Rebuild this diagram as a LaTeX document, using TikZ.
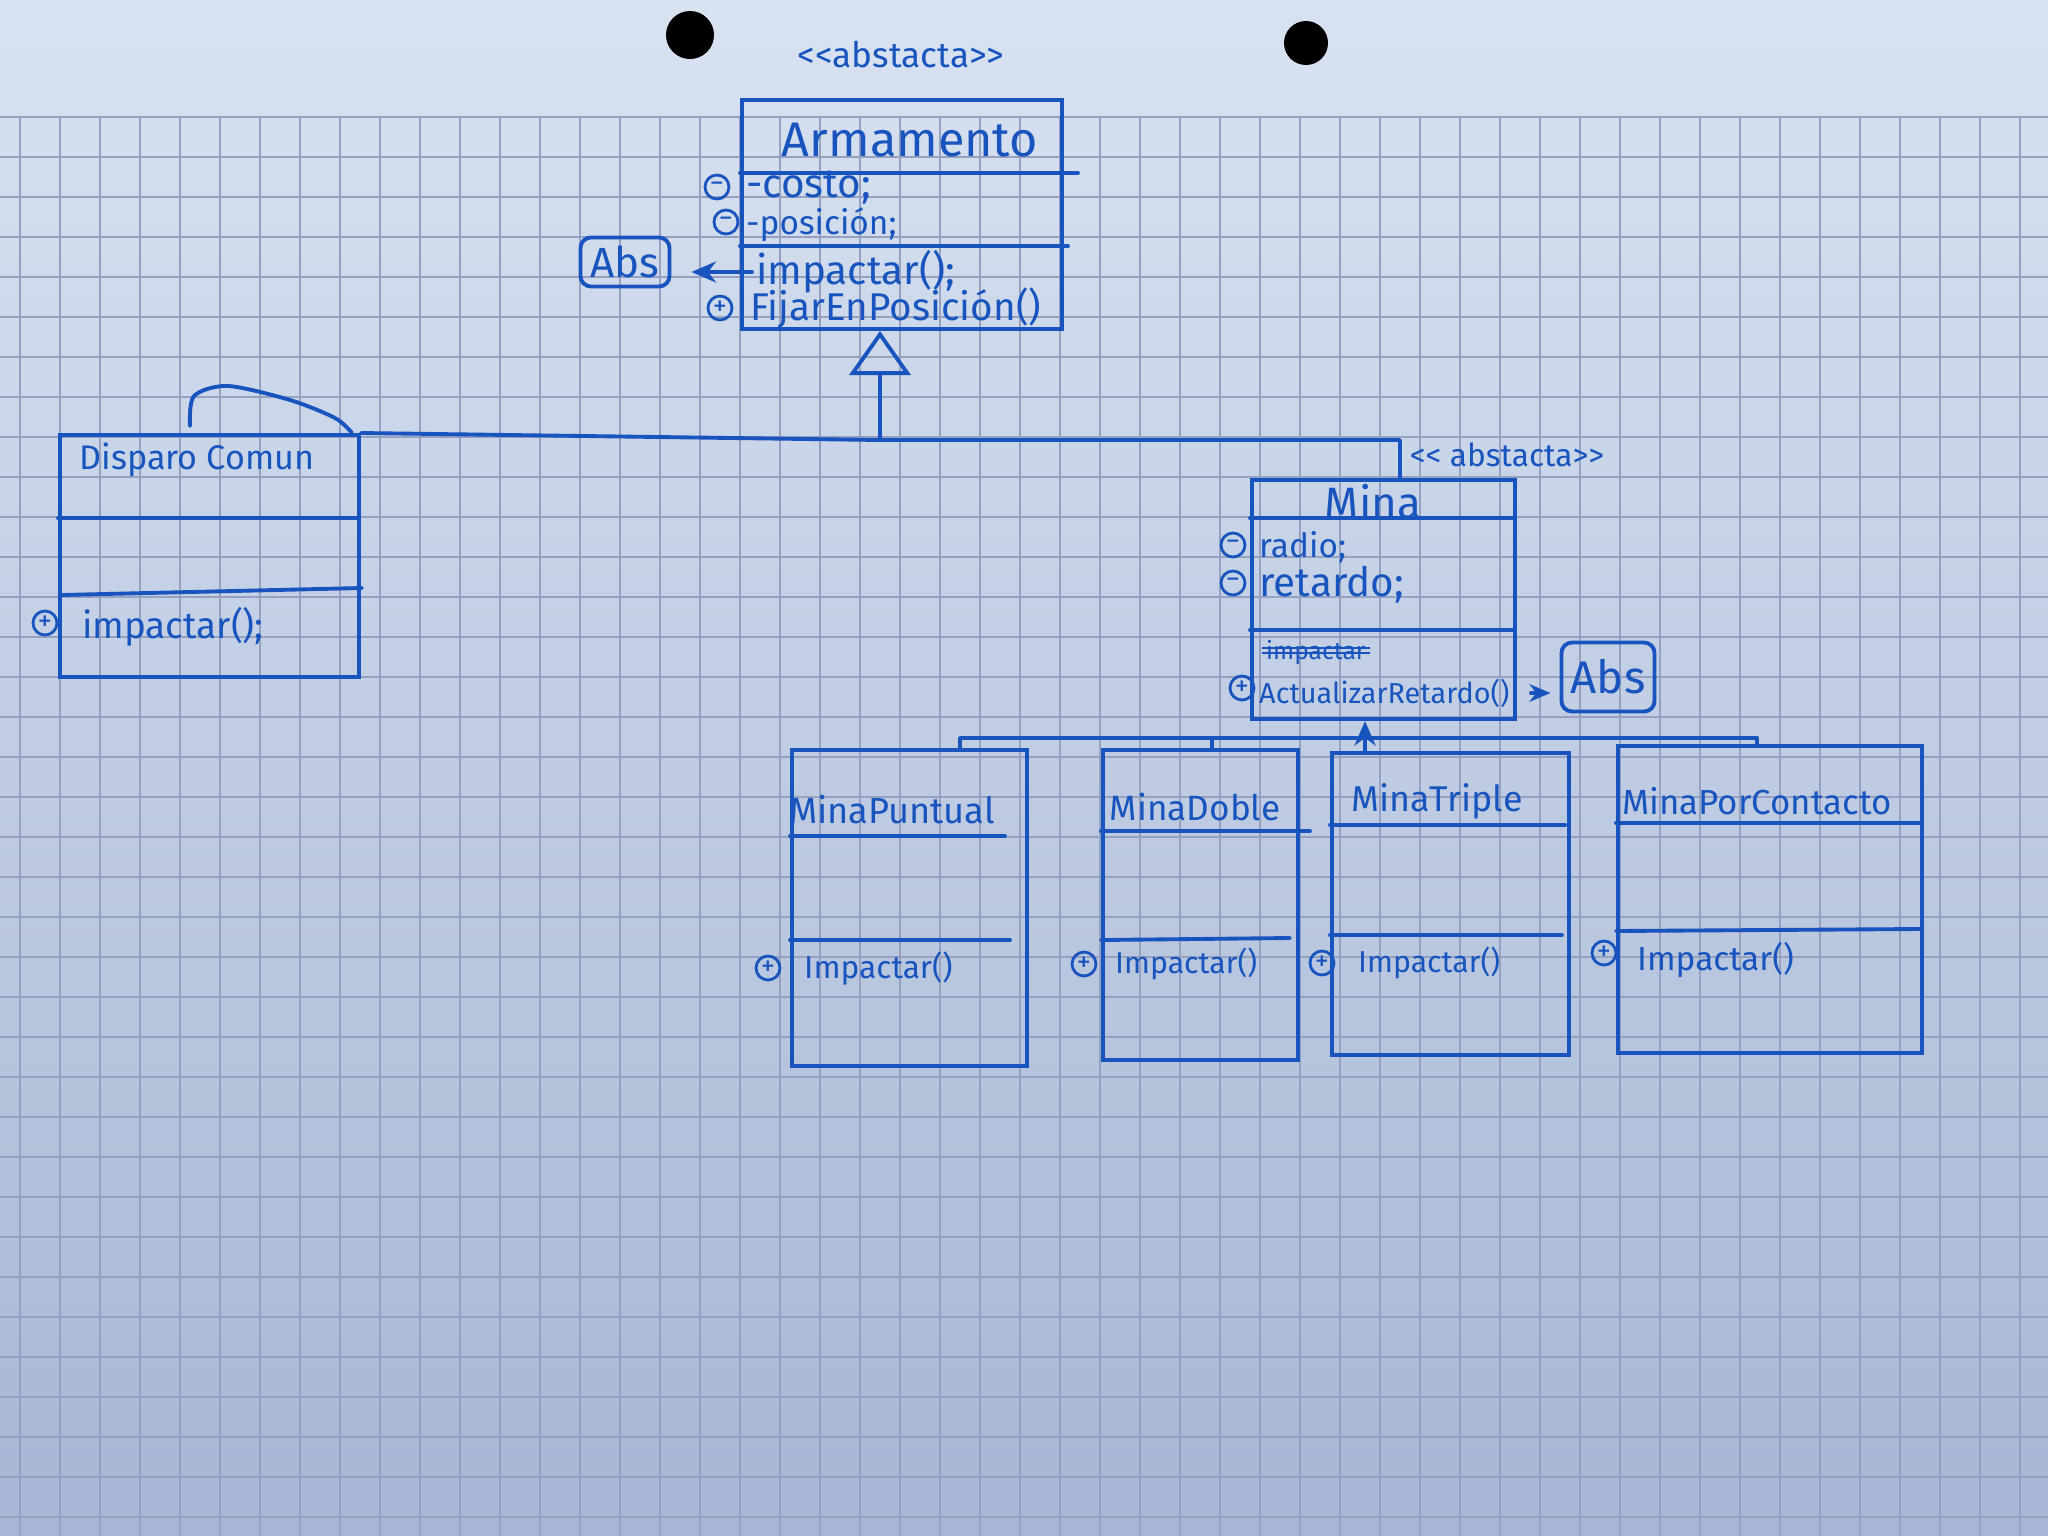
\documentclass[tikz,border=0pt]{standalone}
\usepackage{fontspec}
\setmainfont{Fira Sans}
\usetikzlibrary{arrows.meta}
\definecolor{pen}{RGB}{24,84,190}
\definecolor{paperTop}{RGB}{216,226,241}
\definecolor{paperBot}{RGB}{166,182,212}
\definecolor{gridc}{RGB}{150,160,192}
\newcommand{\hsz}[1]{\fontsize{#1}{#1}\selectfont}
\begin{document}
\begin{tikzpicture}[x=0.01cm,y=-0.01cm,
  cls/.style={draw=pen, line width=1.1pt, inner sep=0pt, anchor=north west},
  ink/.style={text=pen, inner sep=1pt},
  lft/.style={ink, anchor=west},
  vis/.style={circle, draw=pen, line width=0.8pt, minimum size=0.24cm, inner sep=0pt, text=pen, font=\hsz{8}},
  rule/.style={draw=pen, line width=1.1pt, line cap=round},
  link/.style={draw=pen, line width=1.1pt, line cap=round, line join=round},
  tag/.style={draw=pen, line width=1.1pt, rounded corners=3pt, text=pen, inner sep=0pt},
  gridline/.style={draw=gridc, line width=0.45pt}]

% paper and squared grid
\useasboundingbox (0,0) rectangle (2048,1536);
\shade[top color=paperTop, bottom color=paperBot] (0,0) rectangle (2048,1536);
\foreach \x in {20,60,...,2040} \draw[gridline] (\x,117) -- (\x,1536);
\foreach \y in {117,157,...,1517} \draw[gridline] (0,\y) -- (2048,\y);

% punched holes
\fill[black] (690,35) circle (24);
\fill[black] (1306,43) circle (22);

% ---------- Armamento ----------
\node[ink, font=\hsz{10}] (armSt) at (901,55) {<{}<abstacta>{}>};
\node[cls, minimum width=3.2cm, minimum height=2.29cm] (arm) at (740,98) {};
\node[ink, font=\hsz{13.8}] (armT) at (910,140) {Armamento};
\draw[rule] (740,173) -- (1078,173);
\draw[rule] (740,246) -- (1068,246);
\node[vis] (armV1) at (717,187) {−};
\node[lft, font=\hsz{11.5}] (armA1) at (742,188) {-costo;};
\node[vis] (armV2) at (726,222) {−};
\node[lft, font=\hsz{9.5}] (armA2) at (742,225) {-posición;};
\node[lft, font=\hsz{11.5}] (armM1) at (752,272) {impactar();};
\node[vis] (armV3) at (720,308) {+};
\node[lft, font=\hsz{11}] (armM2) at (746,308) {FijarEnPosición()};

\node[tag, minimum width=0.89cm, minimum height=0.49cm, font=\hsz{12}] (absL) at (625,262) {Abs};
\draw[link, -{Stealth[length=7pt,width=6pt]}, shorten >=0.2cm] (armM1.west) -- (armM1.west -| absL.east);

% ---------- Disparo Comun ----------
\node[cls, minimum width=2.99cm, minimum height=2.42cm] (dc) at (58,433) {};
\node[ink, font=\hsz{9.7}] (dcT) at (197,460) {Disparo Comun};
\draw[rule] (58,518) -- (357,518);
\draw[rule] (62,595) -- (362,588);
\node[vis] (dcV) at (45,623) {+};
\node[lft, font=\hsz{10.5}] (dcM) at (78,627) {impactar();};
\draw[link] plot[smooth] coordinates {(190,426) (194,396) (228,386) (290,400) (335,418) (352,433)};

% ---------- Mina ----------
\node[ink, font=\hsz{9}] (minaSt) at (1507,455) {<{}< abstacta>{}>};
\node[cls, minimum width=2.63cm, minimum height=2.39cm] (mina) at (1250,478) {};
\node[ink, font=\hsz{12.5}] (minaT) at (1373,502) {Mina};
\draw[rule] (1250,518) -- (1513,518);
\node[vis] (minaV1) at (1233,545) {−};
\node[lft, font=\hsz{9.5}] (minaA1) at (1255,547) {radio;};
\node[vis] (minaV2) at (1233,583) {−};
\node[lft, font=\hsz{11.5}] (minaA2) at (1255,585) {retardo;};
\draw[rule] (1250,630) -- (1515,630);
\node[lft, font=\hsz{7}] (minaX) at (1262,653) {impactar};
\draw[pen, line width=0.8pt] (minaX.west) -- (minaX.east);
\draw[pen, line width=0.6pt] ([yshift=1.5pt]minaX.west) -- ([yshift=1.5pt]minaX.east);
\node[vis] (minaV3) at (1242,688) {+};
\node[lft, font=\hsz{8.2}] (minaM) at (1255,693) {ActualizarRetardo()};

\node[tag, minimum width=0.93cm, minimum height=0.69cm, font=\hsz{13}] (absR) at (1608,677) {Abs};
\draw[link, -{Stealth[length=6pt,width=5pt]}, shorten <=0.14cm, shorten >=0.09cm] (minaM.west -| mina.east) -- (minaM.west -| absR.west);

% ---------- generalisation to Armamento ----------
\coordinate (jArm) at (880,440);
\coordinate (jMina) at (1400,440);
\draw[link, -{Triangle[open, length=0.44cm, width=0.61cm]}] (jArm) -- (jArm |- arm.south);
\draw[link] (dc.north east) -- (jArm) -- (jMina) -- (jMina |- mina.north);

% ---------- concrete mines ----------
\node[cls, minimum width=2.35cm, minimum height=3.16cm] (mp) at (790,748) {};
\node[ink, font=\hsz{10.3}] (mpT) at (892,810) {MinaPuntual};
\draw[rule] (790,836) -- (1005,836);
\draw[rule] (790,940) -- (1010,940);
\node[vis] (mpV) at (768,968) {+};
\node[lft, font=\hsz{9}] (mpM) at (800,968) {Impactar()};

\node[cls, minimum width=1.95cm, minimum height=3.1cm] (md) at (1101,748) {};
\node[ink, font=\hsz{10}] (mdT) at (1195,807) {MinaDoble};
\draw[rule] (1101,831) -- (1310,831);
\draw[rule] (1101,940) -- (1290,938);
\node[vis] (mdV) at (1084,964) {+};
\node[lft, font=\hsz{8.6}] (mdM) at (1111,964) {Impactar()};

\node[cls, minimum width=2.37cm, minimum height=3.02cm] (mt) at (1330,751) {};
\node[ink, font=\hsz{10.2}] (mtT) at (1437,801) {MinaTriple};
\draw[rule] (1330,825) -- (1565,825);
\draw[rule] (1330,935) -- (1562,935);
\node[vis] (mtV) at (1322,963) {+};
\node[lft, font=\hsz{8.6}] (mtM) at (1354,963) {Impactar()};

\node[cls, minimum width=3.04cm, minimum height=3.07cm] (pc) at (1616,744) {};
\node[ink, font=\hsz{9.9}] (pcT) at (1757,801) {MinaPorContacto};
\draw[rule] (1616,823) -- (1920,823);
\draw[rule] (1616,931) -- (1920,929);
\node[vis] (pcV) at (1604,953) {+};
\node[lft, font=\hsz{9.5}] (pcM) at (1633,960) {Impactar()};

% ---------- generalisation to Mina ----------
\coordinate (jSub) at (1365,738);
\coordinate (bMP) at (960,738);
\coordinate (bMD) at (1212,738);
\coordinate (bPC) at (1757,738);
\draw[link, -{Stealth[length=7pt,width=6pt]}] (jSub) -- (jSub |- mina.south);
\draw[link] (bMP |- mp.north) -- (bMP) -- (bPC) -- (bPC |- pc.north);
\draw[link] (bMD) -- (bMD |- md.north);
\draw[link] (jSub) -- (jSub |- mt.north);

\end{tikzpicture}
\end{document}
